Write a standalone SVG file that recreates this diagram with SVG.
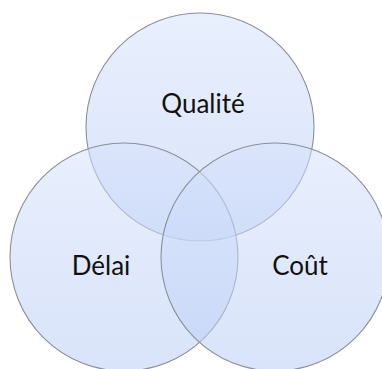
<svg xmlns="http://www.w3.org/2000/svg" width="382" height="369" viewBox="0 0 382 369">
<defs>
<linearGradient id="g" x1="0" y1="0" x2="0" y2="1">
<stop offset="0" stop-color="#d6e2fb"/>
<stop offset="1" stop-color="#b9cdf6"/>
</linearGradient>
</defs>
<style>
.c{fill:url(#g);fill-opacity:0.55;stroke:#8a8f99;stroke-width:1.1}
.t{font-family:Lato,"Open Sans",sans-serif;font-size:26px;fill:#111;text-anchor:middle}
</style>
<rect width="382" height="369" fill="#fff"/>
<g id="qualite"><circle class="c" cx="200" cy="127" r="114"/><text class="t" x="203" y="113">Qualité</text></g>
<g id="delai"><circle class="c" cx="124" cy="257" r="114"/><text class="t" x="101" y="275">Délai</text></g>
<g id="cout"><circle class="c" cx="275" cy="257" r="114"/><text class="t" x="300" y="275">Coût</text></g>
</svg>
